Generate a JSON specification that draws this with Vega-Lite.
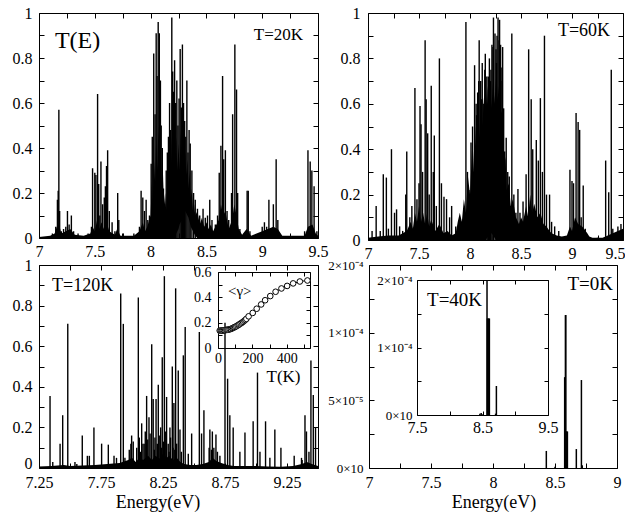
{
"$schema":"https://vega.github.io/schema/vega-lite/v6.json",
"width":625,"height":514,"autosize":{"type":"none"},"padding":0,"background":"white",
"config":{"view":{"stroke":null},"axis":{"grid":false,"domainColor":"black","tickColor":"black","labelColor":"black","titleColor":"black","titleFontWeight":"normal","labelFlush":false,"labelOverlap":false,"labelBound":false,"tickSize":-5,"domainWidth":1,"tickWidth":1,"title":null}},
"datasets":{
"e20":[{"E":7.0,"hi":0.005,"lo":0},{"E":7.1,"hi":0.01,"lo":0},{"E":7.14,"hi":0.02,"lo":0},{"E":7.16,"hi":0.05,"lo":0},{"E":7.18,"hi":0.06,"lo":0},{"E":7.2,"hi":0.02,"lo":0},{"E":7.24,"hi":0.03,"lo":0},{"E":7.28,"hi":0.04,"lo":0},{"E":7.32,"hi":0.015,"lo":0},{"E":7.4,"hi":0.01,"lo":0},{"E":7.46,"hi":0.02,"lo":0},{"E":7.48,"hi":0.05,"lo":0},{"E":7.5,"hi":0.03,"lo":0},{"E":7.52,"hi":0.08,"lo":0},{"E":7.54,"hi":0.04,"lo":0},{"E":7.56,"hi":0.07,"lo":0},{"E":7.58,"hi":0.04,"lo":0},{"E":7.6,"hi":0.08,"lo":0},{"E":7.63,"hi":0.03,"lo":0},{"E":7.68,"hi":0.015,"lo":0},{"E":7.7,"hi":0.04,"lo":0},{"E":7.73,"hi":0.01,"lo":0},{"E":7.85,"hi":0.01,"lo":0},{"E":7.9,"hi":0.03,"lo":0},{"E":7.93,"hi":0.07,"lo":0},{"E":7.95,"hi":0.03,"lo":0},{"E":7.97,"hi":0.05,"lo":0},{"E":8.0,"hi":0.1,"lo":0},{"E":8.01,"hi":0.25,"lo":0},{"E":8.02,"hi":0.15,"lo":0},{"E":8.03,"hi":0.35,"lo":0},{"E":8.04,"hi":0.25,"lo":0},{"E":8.05,"hi":0.45,"lo":0},{"E":8.06,"hi":0.3,"lo":0},{"E":8.07,"hi":0.5,"lo":0},{"E":8.08,"hi":0.35,"lo":0},{"E":8.09,"hi":0.4,"lo":0},{"E":8.1,"hi":0.25,"lo":0},{"E":8.11,"hi":0.3,"lo":0},{"E":8.12,"hi":0.15,"lo":0},{"E":8.13,"hi":0.2,"lo":0},{"E":8.14,"hi":0.12,"lo":0},{"E":8.15,"hi":0.25,"lo":0},{"E":8.16,"hi":0.2,"lo":0},{"E":8.17,"hi":0.35,"lo":0},{"E":8.18,"hi":0.28,"lo":0},{"E":8.19,"hi":0.45,"lo":0},{"E":8.2,"hi":0.3,"lo":0},{"E":8.21,"hi":0.5,"lo":0},{"E":8.22,"hi":0.35,"lo":0},{"E":8.23,"hi":0.45,"lo":0.02},{"E":8.24,"hi":0.3,"lo":0.03},{"E":8.25,"hi":0.42,"lo":0.04},{"E":8.26,"hi":0.3,"lo":0.06},{"E":8.27,"hi":0.48,"lo":0.07},{"E":8.28,"hi":0.32,"lo":0.08},{"E":8.29,"hi":0.45,"lo":0.1},{"E":8.3,"hi":0.3,"lo":0.11},{"E":8.31,"hi":0.38,"lo":0.12},{"E":8.32,"hi":0.28,"lo":0.11},{"E":8.33,"hi":0.35,"lo":0.1},{"E":8.34,"hi":0.22,"lo":0.09},{"E":8.35,"hi":0.3,"lo":0.07},{"E":8.36,"hi":0.18,"lo":0.05},{"E":8.37,"hi":0.22,"lo":0.04},{"E":8.38,"hi":0.12,"lo":0.03},{"E":8.39,"hi":0.15,"lo":0.02},{"E":8.4,"hi":0.1,"lo":0.01},{"E":8.42,"hi":0.12,"lo":0},{"E":8.44,"hi":0.06,"lo":0},{"E":8.46,"hi":0.09,"lo":0},{"E":8.48,"hi":0.05,"lo":0},{"E":8.5,"hi":0.07,"lo":0},{"E":8.52,"hi":0.04,"lo":0},{"E":8.54,"hi":0.06,"lo":0},{"E":8.56,"hi":0.03,"lo":0},{"E":8.58,"hi":0.05,"lo":0},{"E":8.61,"hi":0.08,"lo":0},{"E":8.63,"hi":0.15,"lo":0},{"E":8.65,"hi":0.1,"lo":0},{"E":8.67,"hi":0.12,"lo":0},{"E":8.7,"hi":0.04,"lo":0},{"E":8.73,"hi":0.08,"lo":0},{"E":8.75,"hi":0.15,"lo":0},{"E":8.77,"hi":0.1,"lo":0},{"E":8.79,"hi":0.04,"lo":0},{"E":8.82,"hi":0.015,"lo":0},{"E":8.86,"hi":0.04,"lo":0},{"E":8.9,"hi":0.01,"lo":0},{"E":9.0,"hi":0.03,"lo":0},{"E":9.05,"hi":0.04,"lo":0},{"E":9.1,"hi":0.05,"lo":0},{"E":9.14,"hi":0.04,"lo":0},{"E":9.18,"hi":0.01,"lo":0},{"E":9.38,"hi":0.01,"lo":0},{"E":9.41,"hi":0.05,"lo":0},{"E":9.45,"hi":0.06,"lo":0},{"E":9.48,"hi":0.02,"lo":0},{"E":9.5,"hi":0.01,"lo":0}],
"s20":[{"E":7.12,"T":0.02},{"E":7.15,"T":0.05},{"E":7.165,"T":0.17},{"E":7.172,"T":0.21},{"E":7.178,"T":0.57},{"E":7.185,"T":0.12},{"E":7.2,"T":0.03},{"E":7.22,"T":0.04},{"E":7.24,"T":0.05},{"E":7.255,"T":0.12},{"E":7.27,"T":0.06},{"E":7.29,"T":0.1},{"E":7.31,"T":0.03},{"E":7.35,"T":0.02},{"E":7.44,"T":0.02},{"E":7.47,"T":0.05},{"E":7.48,"T":0.31},{"E":7.5,"T":0.29},{"E":7.51,"T":0.28},{"E":7.525,"T":0.64},{"E":7.535,"T":0.24},{"E":7.545,"T":0.1},{"E":7.555,"T":0.34},{"E":7.57,"T":0.15},{"E":7.585,"T":0.18},{"E":7.595,"T":0.23},{"E":7.605,"T":0.32},{"E":7.615,"T":0.39},{"E":7.63,"T":0.12},{"E":7.655,"T":0.07},{"E":7.68,"T":0.03},{"E":7.705,"T":0.2},{"E":7.715,"T":0.08},{"E":7.75,"T":0.02},{"E":7.85,"T":0.02},{"E":7.9,"T":0.05},{"E":7.915,"T":0.21},{"E":7.93,"T":0.18},{"E":7.945,"T":0.12},{"E":7.96,"T":0.17},{"E":7.975,"T":0.08},{"E":7.99,"T":0.1},{"E":8.005,"T":0.33},{"E":8.015,"T":0.45},{"E":8.028,"T":0.82},{"E":8.04,"T":0.55},{"E":8.05,"T":0.91},{"E":8.058,"T":0.72},{"E":8.068,"T":0.96},{"E":8.078,"T":0.91},{"E":8.088,"T":0.7},{"E":8.095,"T":0.5},{"E":8.105,"T":0.4},{"E":8.115,"T":0.22},{"E":8.125,"T":0.15},{"E":8.14,"T":0.3},{"E":8.15,"T":0.38},{"E":8.16,"T":0.45},{"E":8.17,"T":0.6},{"E":8.18,"T":0.48},{"E":8.19,"T":0.98},{"E":8.198,"T":0.74},{"E":8.205,"T":0.65},{"E":8.215,"T":0.79},{"E":8.225,"T":0.6},{"E":8.235,"T":0.7},{"E":8.245,"T":0.5},{"E":8.255,"T":0.62},{"E":8.265,"T":0.84},{"E":8.275,"T":0.58},{"E":8.285,"T":0.86},{"E":8.295,"T":0.6},{"E":8.305,"T":0.52},{"E":8.315,"T":0.45},{"E":8.325,"T":0.7},{"E":8.335,"T":0.38},{"E":8.345,"T":0.48},{"E":8.355,"T":0.42},{"E":8.37,"T":0.3},{"E":8.385,"T":0.2},{"E":8.4,"T":0.17},{"E":8.42,"T":0.13},{"E":8.44,"T":0.1},{"E":8.47,"T":0.13},{"E":8.49,"T":0.09},{"E":8.51,"T":0.1},{"E":8.53,"T":0.17},{"E":8.55,"T":0.08},{"E":8.58,"T":0.06},{"E":8.6,"T":0.1},{"E":8.615,"T":0.29},{"E":8.63,"T":0.41},{"E":8.645,"T":0.72},{"E":8.655,"T":0.35},{"E":8.67,"T":0.39},{"E":8.685,"T":0.12},{"E":8.7,"T":0.08},{"E":8.725,"T":0.2},{"E":8.735,"T":0.55},{"E":8.755,"T":0.86},{"E":8.77,"T":0.66},{"E":8.78,"T":0.2},{"E":8.8,"T":0.04},{"E":8.84,"T":0.02},{"E":8.865,"T":0.21},{"E":8.875,"T":0.21},{"E":8.89,"T":0.03},{"E":9.0,"T":0.05},{"E":9.02,"T":0.07},{"E":9.04,"T":0.05},{"E":9.06,"T":0.17},{"E":9.08,"T":0.04},{"E":9.1,"T":0.15},{"E":9.125,"T":0.35},{"E":9.14,"T":0.08},{"E":9.38,"T":0.03},{"E":9.41,"T":0.39},{"E":9.43,"T":0.34},{"E":9.445,"T":0.3},{"E":9.465,"T":0.23},{"E":9.49,"T":0.03}],
"e60":[{"E":7.0,"hi":0.01,"lo":0},{"E":7.1,"hi":0.015,"lo":0},{"E":7.2,"hi":0.02,"lo":0},{"E":7.3,"hi":0.02,"lo":0},{"E":7.38,"hi":0.04,"lo":0},{"E":7.42,"hi":0.08,"lo":0},{"E":7.44,"hi":0.05,"lo":0},{"E":7.46,"hi":0.12,"lo":0},{"E":7.48,"hi":0.08,"lo":0},{"E":7.5,"hi":0.15,"lo":0},{"E":7.52,"hi":0.08,"lo":0},{"E":7.54,"hi":0.12,"lo":0},{"E":7.56,"hi":0.07,"lo":0},{"E":7.58,"hi":0.12,"lo":0},{"E":7.6,"hi":0.06,"lo":0},{"E":7.62,"hi":0.09,"lo":0},{"E":7.66,"hi":0.04,"lo":0},{"E":7.7,"hi":0.07,"lo":0},{"E":7.74,"hi":0.03,"lo":0},{"E":7.78,"hi":0.04,"lo":0},{"E":7.82,"hi":0.02,"lo":0},{"E":7.86,"hi":0.03,"lo":0},{"E":7.88,"hi":0.08,"lo":0},{"E":7.9,"hi":0.12,"lo":0},{"E":7.92,"hi":0.08,"lo":0},{"E":7.94,"hi":0.18,"lo":0},{"E":7.96,"hi":0.12,"lo":0},{"E":7.98,"hi":0.28,"lo":0},{"E":8.0,"hi":0.2,"lo":0},{"E":8.02,"hi":0.4,"lo":0},{"E":8.03,"hi":0.3,"lo":0},{"E":8.05,"hi":0.5,"lo":0},{"E":8.06,"hi":0.4,"lo":0},{"E":8.08,"hi":0.58,"lo":0},{"E":8.09,"hi":0.45,"lo":0},{"E":8.11,"hi":0.62,"lo":0},{"E":8.12,"hi":0.5,"lo":0},{"E":8.14,"hi":0.65,"lo":0},{"E":8.15,"hi":0.55,"lo":0},{"E":8.17,"hi":0.68,"lo":0.01},{"E":8.18,"hi":0.55,"lo":0.02},{"E":8.2,"hi":0.7,"lo":0.03},{"E":8.21,"hi":0.58,"lo":0.03},{"E":8.23,"hi":0.72,"lo":0.02},{"E":8.24,"hi":0.6,"lo":0.01},{"E":8.26,"hi":0.75,"lo":0},{"E":8.27,"hi":0.62,"lo":0},{"E":8.29,"hi":0.7,"lo":0},{"E":8.3,"hi":0.55,"lo":0},{"E":8.32,"hi":0.58,"lo":0},{"E":8.33,"hi":0.4,"lo":0},{"E":8.35,"hi":0.35,"lo":0},{"E":8.36,"hi":0.22,"lo":0},{"E":8.38,"hi":0.25,"lo":0},{"E":8.4,"hi":0.15,"lo":0},{"E":8.42,"hi":0.18,"lo":0},{"E":8.45,"hi":0.1,"lo":0},{"E":8.48,"hi":0.07,"lo":0},{"E":8.5,"hi":0.1,"lo":0},{"E":8.52,"hi":0.08,"lo":0},{"E":8.55,"hi":0.15,"lo":0},{"E":8.57,"hi":0.1,"lo":0},{"E":8.59,"hi":0.2,"lo":0},{"E":8.61,"hi":0.12,"lo":0},{"E":8.63,"hi":0.16,"lo":0},{"E":8.66,"hi":0.1,"lo":0},{"E":8.69,"hi":0.12,"lo":0},{"E":8.72,"hi":0.07,"lo":0},{"E":8.75,"hi":0.06,"lo":0},{"E":8.78,"hi":0.04,"lo":0},{"E":8.8,"hi":0.03,"lo":0},{"E":8.85,"hi":0.02,"lo":0},{"E":8.9,"hi":0.015,"lo":0},{"E":8.95,"hi":0.02,"lo":0},{"E":8.98,"hi":0.06,"lo":0},{"E":9.0,"hi":0.04,"lo":0},{"E":9.03,"hi":0.1,"lo":0},{"E":9.06,"hi":0.07,"lo":0},{"E":9.1,"hi":0.06,"lo":0},{"E":9.15,"hi":0.03,"lo":0},{"E":9.17,"hi":0.015,"lo":0},{"E":9.2,"hi":0.01,"lo":0},{"E":9.3,"hi":0.01,"lo":0},{"E":9.35,"hi":0.02,"lo":0},{"E":9.4,"hi":0.03,"lo":0},{"E":9.45,"hi":0.04,"lo":0},{"E":9.5,"hi":0.05,"lo":0}],
"s60":[{"E":7.04,"T":0.04},{"E":7.08,"T":0.15},{"E":7.12,"T":0.04},{"E":7.15,"T":0.29},{"E":7.18,"T":0.275},{"E":7.2,"T":0.05},{"E":7.23,"T":0.4},{"E":7.26,"T":0.12},{"E":7.28,"T":0.135},{"E":7.31,"T":0.06},{"E":7.34,"T":0.04},{"E":7.37,"T":0.2},{"E":7.38,"T":0.39},{"E":7.41,"T":0.1},{"E":7.43,"T":0.15},{"E":7.46,"T":0.67},{"E":7.48,"T":0.18},{"E":7.5,"T":0.25},{"E":7.51,"T":0.59},{"E":7.52,"T":0.51},{"E":7.535,"T":0.3},{"E":7.56,"T":0.88},{"E":7.57,"T":0.62},{"E":7.585,"T":0.47},{"E":7.6,"T":0.2},{"E":7.62,"T":0.68},{"E":7.64,"T":0.3},{"E":7.65,"T":0.46},{"E":7.67,"T":0.15},{"E":7.7,"T":0.8},{"E":7.72,"T":0.25},{"E":7.745,"T":0.19},{"E":7.77,"T":0.18},{"E":7.8,"T":0.1},{"E":7.82,"T":0.15},{"E":7.86,"T":0.06},{"E":7.9,"T":0.08},{"E":7.96,"T":0.96},{"E":7.975,"T":0.3},{"E":7.99,"T":0.22},{"E":8.01,"T":0.43},{"E":8.025,"T":0.5},{"E":8.03,"T":0.22},{"E":8.045,"T":0.77},{"E":8.06,"T":0.6},{"E":8.065,"T":0.55},{"E":8.075,"T":0.65},{"E":8.085,"T":0.7},{"E":8.09,"T":0.88},{"E":8.105,"T":0.7},{"E":8.115,"T":0.62},{"E":8.12,"T":0.78},{"E":8.135,"T":0.6},{"E":8.145,"T":0.75},{"E":8.15,"T":0.82},{"E":8.165,"T":0.72},{"E":8.175,"T":0.6},{"E":8.18,"T":0.72},{"E":8.19,"T":0.8},{"E":8.2,"T":0.7},{"E":8.205,"T":0.75},{"E":8.215,"T":0.86},{"E":8.225,"T":0.85},{"E":8.23,"T":0.98},{"E":8.245,"T":0.91},{"E":8.255,"T":0.84},{"E":8.26,"T":0.78},{"E":8.265,"T":0.9},{"E":8.275,"T":0.98},{"E":8.285,"T":0.88},{"E":8.29,"T":0.97},{"E":8.3,"T":0.86},{"E":8.305,"T":0.76},{"E":8.315,"T":0.7},{"E":8.32,"T":0.85},{"E":8.33,"T":0.58},{"E":8.34,"T":0.39},{"E":8.355,"T":0.45},{"E":8.37,"T":0.3},{"E":8.385,"T":0.28},{"E":8.41,"T":0.91},{"E":8.43,"T":0.2},{"E":8.45,"T":0.12},{"E":8.47,"T":0.225},{"E":8.49,"T":0.12},{"E":8.52,"T":0.17},{"E":8.55,"T":0.29},{"E":8.575,"T":0.84},{"E":8.6,"T":0.62},{"E":8.615,"T":0.4},{"E":8.65,"T":0.44},{"E":8.67,"T":0.35},{"E":8.69,"T":0.625},{"E":8.71,"T":0.3},{"E":8.73,"T":0.9},{"E":8.75,"T":0.2},{"E":8.78,"T":0.2},{"E":8.8,"T":0.08},{"E":8.83,"T":0.06},{"E":8.87,"T":0.04},{"E":8.98,"T":0.31},{"E":9.0,"T":0.26},{"E":9.015,"T":0.25},{"E":9.04,"T":0.56},{"E":9.06,"T":0.52},{"E":9.075,"T":0.485},{"E":9.09,"T":0.1},{"E":9.11,"T":0.24},{"E":9.13,"T":0.05},{"E":9.25,"T":0.01},{"E":9.33,"T":0.35},{"E":9.36,"T":0.21},{"E":9.385,"T":0.75},{"E":9.4,"T":0.05},{"E":9.45,"T":0.06},{"E":9.48,"T":0.07}],
"e120":[{"E":7.25,"hi":0.008,"lo":0},{"E":7.35,"hi":0.01,"lo":0},{"E":7.45,"hi":0.015,"lo":0},{"E":7.5,"hi":0.01,"lo":0},{"E":7.6,"hi":0.012,"lo":0},{"E":7.7,"hi":0.015,"lo":0},{"E":7.8,"hi":0.02,"lo":0},{"E":7.9,"hi":0.025,"lo":0},{"E":7.97,"hi":0.04,"lo":0},{"E":8.0,"hi":0.05,"lo":0},{"E":8.03,"hi":0.03,"lo":0},{"E":8.06,"hi":0.05,"lo":0},{"E":8.09,"hi":0.04,"lo":0},{"E":8.13,"hi":0.06,"lo":0},{"E":8.16,"hi":0.04,"lo":0},{"E":8.19,"hi":0.06,"lo":0},{"E":8.22,"hi":0.045,"lo":0},{"E":8.25,"hi":0.07,"lo":0},{"E":8.28,"hi":0.05,"lo":0},{"E":8.3,"hi":0.06,"lo":0},{"E":8.33,"hi":0.04,"lo":0},{"E":8.36,"hi":0.05,"lo":0},{"E":8.39,"hi":0.03,"lo":0},{"E":8.42,"hi":0.02,"lo":0},{"E":8.47,"hi":0.015,"lo":0},{"E":8.52,"hi":0.015,"lo":0},{"E":8.57,"hi":0.02,"lo":0},{"E":8.62,"hi":0.03,"lo":0},{"E":8.65,"hi":0.05,"lo":0},{"E":8.68,"hi":0.035,"lo":0},{"E":8.72,"hi":0.025,"lo":0},{"E":8.77,"hi":0.015,"lo":0},{"E":8.82,"hi":0.01,"lo":0},{"E":8.9,"hi":0.01,"lo":0},{"E":9.0,"hi":0.01,"lo":0},{"E":9.1,"hi":0.008,"lo":0},{"E":9.2,"hi":0.006,"lo":0},{"E":9.3,"hi":0.01,"lo":0},{"E":9.37,"hi":0.02,"lo":0},{"E":9.41,"hi":0.03,"lo":0},{"E":9.45,"hi":0.02,"lo":0},{"E":9.5,"hi":0.01,"lo":0}],
"s120":[{"E":7.339,"T":0.355},{"E":7.361,"T":0.03},{"E":7.42,"T":0.12},{"E":7.441,"T":0.26},{"E":7.482,"T":0.71},{"E":7.54,"T":0.03},{"E":7.555,"T":0.02},{"E":7.599,"T":0.16},{"E":7.64,"T":0.06},{"E":7.656,"T":0.06},{"E":7.693,"T":0.2},{"E":7.755,"T":0.12},{"E":7.809,"T":0.115},{"E":7.855,"T":0.06},{"E":7.875,"T":0.05},{"E":7.909,"T":0.86},{"E":7.93,"T":0.71},{"E":7.943,"T":0.05},{"E":7.978,"T":0.09},{"E":7.991,"T":0.12},{"E":7.997,"T":0.16},{"E":8.01,"T":0.13},{"E":8.038,"T":0.1},{"E":8.051,"T":0.84},{"E":8.059,"T":0.15},{"E":8.069,"T":0.08},{"E":8.078,"T":0.22},{"E":8.088,"T":0.12},{"E":8.098,"T":0.12},{"E":8.107,"T":0.18},{"E":8.118,"T":0.355},{"E":8.127,"T":0.14},{"E":8.137,"T":0.25},{"E":8.146,"T":0.17},{"E":8.159,"T":0.61},{"E":8.171,"T":0.34},{"E":8.18,"T":0.09},{"E":8.185,"T":0.15},{"E":8.194,"T":0.34},{"E":8.204,"T":0.12},{"E":8.212,"T":0.41},{"E":8.224,"T":0.16},{"E":8.231,"T":0.2},{"E":8.238,"T":0.1},{"E":8.244,"T":0.545},{"E":8.253,"T":0.13},{"E":8.261,"T":0.945},{"E":8.272,"T":0.18},{"E":8.279,"T":0.35},{"E":8.292,"T":0.12},{"E":8.299,"T":0.08},{"E":8.306,"T":0.2},{"E":8.311,"T":0.15},{"E":8.325,"T":0.5},{"E":8.331,"T":0.1},{"E":8.338,"T":0.32},{"E":8.345,"T":0.09},{"E":8.352,"T":0.885},{"E":8.36,"T":0.12},{"E":8.373,"T":0.48},{"E":8.387,"T":0.19},{"E":8.398,"T":0.08},{"E":8.414,"T":0.555},{"E":8.429,"T":0.695},{"E":8.454,"T":0.07},{"E":8.481,"T":0.17},{"E":8.543,"T":0.67},{"E":8.561,"T":0.17},{"E":8.58,"T":0.285},{"E":8.622,"T":0.1},{"E":8.628,"T":0.19},{"E":8.641,"T":0.09},{"E":8.648,"T":0.18},{"E":8.66,"T":0.1},{"E":8.677,"T":0.165},{"E":8.689,"T":0.08},{"E":8.709,"T":0.06},{"E":8.75,"T":0.715},{"E":8.771,"T":0.44},{"E":8.789,"T":0.26},{"E":8.816,"T":0.2},{"E":8.87,"T":0.08},{"E":8.911,"T":0.175},{"E":8.977,"T":0.23},{"E":9.012,"T":0.47},{"E":9.032,"T":0.08},{"E":9.077,"T":0.23},{"E":9.112,"T":0.05},{"E":9.152,"T":0.19},{"E":9.201,"T":0.1},{"E":9.308,"T":0.06},{"E":9.367,"T":0.05},{"E":9.372,"T":0.04},{"E":9.395,"T":0.26},{"E":9.407,"T":0.18},{"E":9.427,"T":0.08},{"E":9.443,"T":0.53},{"E":9.462,"T":0.36},{"E":9.48,"T":0.2}],
"s0":[{"E":8.43,"V":0.0000126},{"E":8.5,"V":0.000001},{"E":8.578,"V":0.000067},{"E":8.581,"V":0.000067},{"E":8.584,"V":0.000113},{"E":8.587,"V":0.000113},{"E":8.591,"V":0.000027},{"E":8.595,"V":0.000027},{"E":8.6,"V":0.000027},{"E":8.672,"V":0.000014},{"E":8.713,"V":0.000065},{"E":8.72,"V":0.000002}],
"s40":[{"E":8.46,"V":0.000002},{"E":8.48,"V":0.000003},{"E":8.5,"V":0.000001},{"E":8.569,"V":0.0002},{"E":8.575,"V":0.000143},{"E":8.585,"V":0.000143},{"E":8.595,"V":0.000143},{"E":8.605,"V":0.000143},{"E":8.7,"V":0.000002},{"E":8.712,"V":0.000043}],
"gam":[{"T":10,"g":0.137},{"T":16,"g":0.137},{"T":22,"g":0.137},{"T":28,"g":0.138},{"T":35,"g":0.14},{"T":42,"g":0.141},{"T":49,"g":0.143},{"T":55,"g":0.144},{"T":61,"g":0.145},{"T":68,"g":0.148},{"T":75,"g":0.15},{"T":82,"g":0.155},{"T":88,"g":0.159},{"T":94,"g":0.163},{"T":100,"g":0.167},{"T":107,"g":0.172},{"T":114,"g":0.178},{"T":120,"g":0.183},{"T":125,"g":0.188},{"T":132,"g":0.194},{"T":139,"g":0.2},{"T":146,"g":0.207},{"T":153,"g":0.215},{"T":159,"g":0.222},{"T":165,"g":0.23},{"T":178,"g":0.25},{"T":202,"g":0.277},{"T":225,"g":0.31},{"T":251,"g":0.344},{"T":274,"g":0.377},{"T":304,"g":0.41},{"T":335,"g":0.444},{"T":369,"g":0.47},{"T":402,"g":0.49},{"T":437,"g":0.51},{"T":476,"g":0.525},{"T":520,"g":0.533}]
},
"layer":[
{"resolve":{"axis":{"x":"independent","y":"independent"}},"layer":[
 {"data":{"name":"e20"},"mark":{"type":"area","color":"black","interpolate":"linear"},
  "encoding":{"x":{"field":"E","type":"quantitative","scale":{"domain":[7,9.5],"range":[39,318],"nice":false,"zero":false},"axis":{"orient":"bottom","offset":-276,"values":[7,7.25,7.5,7.75,8,8.25,8.5,8.75,9,9.25,9.5],"labelExpr":"round(datum.value*4)%2==0 ? format(datum.value,'.3~g') : ''","labelFont":"Liberation Serif","labelFontSize":16,"labelPadding":10}},
   "y":{"field":"hi","type":"quantitative","scale":{"domain":[0,1],"range":[238,13],"nice":false,"zero":false},"axis":{"orient":"left","offset":-39,"values":[0,0.1,0.2,0.3,0.4,0.5,0.6,0.7,0.8,0.9,1],"labelExpr":"round(datum.value*10)%2==0 ? format(datum.value,'.2~g') : ''","labelFont":"Liberation Serif","labelFontSize":16,"labelPadding":12}},
   "y2":{"field":"lo"}}},
 {"data":{"name":"s20"},"mark":{"type":"rule","color":"black","strokeWidth":1.4},
  "encoding":{"x":{"field":"E","type":"quantitative","scale":{"domain":[7,9.5],"range":[39,318],"nice":false,"zero":false},"axis":{"orient":"top","offset":-13,"values":[7,7.25,7.5,7.75,8,8.25,8.5,8.75,9,9.25,9.5],"labels":false}},
   "y":{"field":"T","type":"quantitative","scale":{"domain":[0,1],"range":[238,13],"nice":false,"zero":false},"axis":{"orient":"right","offset":-307,"values":[0,0.1,0.2,0.3,0.4,0.5,0.6,0.7,0.8,0.9,1],"labels":false}},
   "y2":{"datum":0}}},
 {"data":{"values":[{"label":"T(E)"}]},"mark":{"type":"text","fontSize":24,"align":"left","baseline":"alphabetic","font":"Liberation Serif","color":"black"},
  "encoding":{"x":{"datum":7.143,"type":"quantitative","axis":null},"y":{"datum":0.844,"type":"quantitative","axis":null},"text":{"field":"label"}}},
 {"data":{"values":[{"label":"T=20K"}]},"mark":{"type":"text","fontSize":17,"align":"right","baseline":"alphabetic","font":"Liberation Serif","color":"black"},
  "encoding":{"x":{"datum":9.366,"type":"quantitative","axis":null},"y":{"datum":0.88,"type":"quantitative","axis":null},"text":{"field":"label"}}}
]},
{"resolve":{"axis":{"x":"independent","y":"independent"}},"layer":[
 {"data":{"name":"e60"},"mark":{"type":"area","color":"black","interpolate":"linear"},
  "encoding":{"x":{"field":"E","type":"quantitative","scale":{"domain":[7,9.5],"range":[368,623],"nice":false,"zero":false},"axis":{"orient":"bottom","offset":-274,"values":[7,7.25,7.5,7.75,8,8.25,8.5,8.75,9,9.25,9.5],"labelExpr":"round(datum.value*4)%2==0 ? format(datum.value,'.3~g') : ''","labelFont":"Liberation Serif","labelFontSize":16,"labelPadding":10,"labelAlign":{"condition":{"test":"datum.value == 9.5","value":"right"},"value":"center"},"labelOffset":{"condition":{"test":"datum.value == 9.5","value":2},"value":0}}},
   "y":{"field":"hi","type":"quantitative","scale":{"domain":[0,1],"range":[240,13],"nice":false,"zero":false},"axis":{"orient":"left","offset":-368,"values":[0,0.1,0.2,0.3,0.4,0.5,0.6,0.7,0.8,0.9,1],"labelExpr":"round(datum.value*10)%2==0 ? format(datum.value,'.2~g') : ''","labelFont":"Liberation Serif","labelFontSize":16,"labelPadding":13}},
   "y2":{"field":"lo"}}},
 {"data":{"name":"s60"},"mark":{"type":"rule","color":"black","strokeWidth":1.4},
  "encoding":{"x":{"field":"E","type":"quantitative","scale":{"domain":[7,9.5],"range":[368,623],"nice":false,"zero":false},"axis":{"orient":"top","offset":-13,"values":[7,7.25,7.5,7.75,8,8.25,8.5,8.75,9,9.25,9.5],"labels":false}},
   "y":{"field":"T","type":"quantitative","scale":{"domain":[0,1],"range":[240,13],"nice":false,"zero":false},"axis":{"orient":"right","offset":-2,"values":[0,0.1,0.2,0.3,0.4,0.5,0.6,0.7,0.8,0.9,1],"labels":false}},
   "y2":{"datum":0}}},
 {"data":{"values":[{"label":"T=60K"}]},"mark":{"type":"text","fontSize":18,"align":"right","baseline":"alphabetic","font":"Liberation Serif","color":"black"},
  "encoding":{"x":{"datum":9.373,"type":"quantitative","axis":null},"y":{"datum":0.899,"type":"quantitative","axis":null},"text":{"field":"label"}}}
]},
{"resolve":{"axis":{"x":"independent","y":"independent"}},"layer":[
 {"data":{"name":"e120"},"mark":{"type":"area","color":"black","interpolate":"linear"},
  "encoding":{"x":{"field":"E","type":"quantitative","scale":{"domain":[7.25,9.5],"range":[39,318],"nice":false,"zero":false},"axis":{"orient":"bottom","offset":-46,"values":[7.25,7.5,7.75,8,8.25,8.5,8.75,9,9.25,9.5],"labelExpr":"round((datum.value-7.25)*4)%2==0 ? format(datum.value,'.3~g') : ''","labelFont":"Liberation Serif","labelFontSize":16,"labelPadding":11,"title":"Energy(eV)","titleFont":"Liberation Serif","titleFontSize":18,"titleX":157.5,"titleY":39,"titleBaseline":"alphabetic","titleAlign":"center"}},
   "y":{"field":"hi","type":"quantitative","scale":{"domain":[0,1],"range":[468,265],"nice":false,"zero":false},"axis":{"orient":"left","offset":-39,"values":[0,0.1,0.2,0.3,0.4,0.5,0.6,0.7,0.8,0.9,1],"labelExpr":"round(datum.value*10)%2==0 ? format(datum.value,'.2~g') : ''","labelFont":"Liberation Serif","labelFontSize":16,"labelPadding":12,"labelBaseline":{"condition":{"test":"datum.value == 0","value":"bottom"},"value":"middle"},"labelOffset":{"condition":{"test":"datum.value == 0","value":3},"value":0}}},
   "y2":{"field":"lo"}}},
 {"data":{"name":"s120"},"mark":{"type":"rule","color":"black","strokeWidth":1.4},
  "encoding":{"x":{"field":"E","type":"quantitative","scale":{"domain":[7.25,9.5],"range":[39,318],"nice":false,"zero":false},"axis":{"orient":"top","offset":-265,"values":[7.25,7.5,7.75,8,8.25,8.5,8.75,9,9.25,9.5],"labels":false}},
   "y":{"field":"T","type":"quantitative","scale":{"domain":[0,1],"range":[468,265],"nice":false,"zero":false},"axis":{"orient":"right","offset":-307,"values":[0,0.1,0.2,0.3,0.4,0.5,0.6,0.7,0.8,0.9,1],"labels":false}},
   "y2":{"datum":0}}},
 {"data":{"values":[{"label":"T=120K"}]},"mark":{"type":"text","fontSize":18,"align":"left","baseline":"alphabetic","font":"Liberation Serif","color":"black"},
  "encoding":{"x":{"datum":7.355,"type":"quantitative","axis":null},"y":{"datum":0.873,"type":"quantitative","axis":null},"text":{"field":"label"}}}
]},
{"resolve":{"axis":{"x":"independent","y":"independent"}},"layer":[
 {"data":{"name":"s0"},"mark":{"type":"rule","color":"black","strokeWidth":1.5},
  "encoding":{"x":{"field":"E","type":"quantitative","scale":{"domain":[7,9],"range":[369,617],"nice":false,"zero":false},"axis":{"orient":"bottom","offset":-46,"values":[7,7.25,7.5,7.75,8,8.25,8.5,8.75,9],"labelExpr":"round(datum.value*4)%2==0 ? format(datum.value,'.3~g') : ''","labelFont":"Liberation Serif","labelFontSize":16,"labelPadding":11,"title":"Energy(eV)","titleFont":"Liberation Serif","titleFontSize":18,"titleX":493.5,"titleY":39,"titleBaseline":"alphabetic","titleAlign":"center"}},
   "y":{"field":"V","type":"quantitative","scale":{"domain":[0,0.00015],"range":[468,265],"nice":false,"zero":false},"axis":{"orient":"left","offset":-369,"values":[0,0.000025,0.00005,0.000075,0.0001,0.000125,0.00015],"labelExpr":"datum.value == 0 ? '0×10' : abs(datum.value-0.00005) < 1e-9 ? '5×10⁻⁵' : abs(datum.value-0.0001) < 1e-9 ? '1×10⁻⁴' : abs(datum.value-0.00015) < 1e-9 ? '2×10⁻⁴' : ''","labelFont":"Liberation Serif","labelFontSize":13,"labelPadding":11}},
   "y2":{"datum":0}}},
 {"data":{"name":"s0"},"mark":{"type":"rule","opacity":0},
  "encoding":{"x":{"field":"E","type":"quantitative","scale":{"domain":[7,9],"range":[369,617],"nice":false,"zero":false},"axis":{"orient":"top","offset":-265,"values":[7,7.25,7.5,7.75,8,8.25,8.5,8.75,9],"labels":false}},
   "y":{"field":"V","type":"quantitative","scale":{"domain":[0,0.00015],"range":[468,265],"nice":false,"zero":false},"axis":{"orient":"right","offset":-8,"values":[0,0.000025,0.00005,0.000075,0.0001,0.000125,0.00015],"labels":false}},
   "y2":{"datum":0}}},
 {"data":{"values":[{"label":"T=0K"}]},"mark":{"type":"text","fontSize":19,"align":"right","baseline":"alphabetic","font":"Liberation Serif","color":"black"},
  "encoding":{"x":{"datum":8.968,"type":"quantitative","axis":null},"y":{"datum":0.0001315,"type":"quantitative","axis":null},"text":{"field":"label"}}}
]},
{"resolve":{"axis":{"x":"independent","y":"independent"}},"layer":[
 {"data":{"name":"gam"},"mark":{"type":"line","color":"black","strokeWidth":1},
  "encoding":{"x":{"field":"T","type":"quantitative","scale":{"domain":[0,535],"range":[218,310],"nice":false,"zero":false},"axis":{"orient":"bottom","offset":-166,"values":[0,100,200,300,400,500],"labelExpr":"datum.value % 200 == 0 ? format(datum.value,'d') : ''","labelFont":"Liberation Serif","labelFontSize":14,"labelPadding":7,"tickSize":-4,"title":"T(K)","titleFont":"Liberation Serif","titleFontSize":17,"titleX":283,"titleY":33,"titleBaseline":"alphabetic","titleAlign":"center"}},
   "y":{"field":"g","type":"quantitative","scale":{"domain":[0,0.6],"range":[348,272],"nice":false,"zero":false},"axis":{"orient":"left","offset":-218,"values":[0,0.1,0.2,0.3,0.4,0.5,0.6],"labelExpr":"round(datum.value*10)%2==0 ? format(datum.value,'.1~f') : ''","labelFont":"Liberation Serif","labelFontSize":14,"labelPadding":11,"tickSize":-4}}}},
 {"data":{"name":"gam"},"mark":{"type":"point","filled":true,"fill":"white","stroke":"black","strokeWidth":1,"size":32,"opacity":1},
  "encoding":{"x":{"field":"T","type":"quantitative","scale":{"domain":[0,535],"range":[218,310],"nice":false,"zero":false},"axis":{"orient":"top","offset":-272,"values":[0,100,200,300,400,500],"labels":false,"tickSize":-4}},
   "y":{"field":"g","type":"quantitative","scale":{"domain":[0,0.6],"range":[348,272],"nice":false,"zero":false},"axis":{"orient":"right","offset":-315,"values":[0,0.1,0.2,0.3,0.4,0.5,0.6],"labels":false,"tickSize":-4}}}},
 {"data":{"values":[{"label":"<γ>"}]},"mark":{"type":"text","fontSize":15,"align":"left","baseline":"alphabetic","font":"Liberation Serif","color":"black"},
  "encoding":{"x":{"datum":58,"type":"quantitative","axis":null},"y":{"datum":0.41,"type":"quantitative","axis":null},"text":{"field":"label"}}}
]},
{"resolve":{"axis":{"x":"independent","y":"independent"}},"layer":[
 {"data":{"name":"s40"},"mark":{"type":"rule","color":"black","strokeWidth":1.5},
  "encoding":{"x":{"field":"E","type":"quantitative","scale":{"domain":[7.5,9.5],"range":[417,548],"nice":false,"zero":false},"axis":{"orient":"bottom","offset":-99,"values":[7.5,8,8.5,9,9.5],"labelExpr":"round((datum.value-7.5)*2)%2==0 ? format(datum.value,'.2~g') : ''","labelFont":"Liberation Serif","labelFontSize":16,"labelPadding":8,"tickSize":-4}},
   "y":{"field":"V","type":"quantitative","scale":{"domain":[0,0.0002],"range":[415,280],"nice":false,"zero":false},"axis":{"orient":"left","offset":-417,"values":[0,0.00005,0.0001,0.00015,0.0002],"labelExpr":"datum.value == 0 ? '0×10' : abs(datum.value-0.0001) < 1e-9 ? '1×10⁻⁴' : abs(datum.value-0.0002) < 1e-9 ? '2×10⁻⁴' : ''","labelFont":"Liberation Serif","labelFontSize":13,"labelPadding":9,"tickSize":-4}},
   "y2":{"datum":0}}},
 {"data":{"name":"s40"},"mark":{"type":"rule","opacity":0},
  "encoding":{"x":{"field":"E","type":"quantitative","scale":{"domain":[7.5,9.5],"range":[417,548],"nice":false,"zero":false},"axis":{"orient":"top","offset":-280,"values":[7.5,8,8.5,9,9.5],"labels":false,"tickSize":-4}},
   "y":{"field":"V","type":"quantitative","scale":{"domain":[0,0.0002],"range":[415,280],"nice":false,"zero":false},"axis":{"orient":"right","offset":-77,"values":[0,0.00005,0.0001,0.00015,0.0002],"labels":false,"tickSize":-4}},
   "y2":{"datum":0}}},
 {"data":{"values":[{"label":"T=40K"}]},"mark":{"type":"text","fontSize":19,"align":"left","baseline":"alphabetic","font":"Liberation Serif","color":"black"},
  "encoding":{"x":{"datum":7.653,"type":"quantitative","axis":null},"y":{"datum":0.0001616,"type":"quantitative","axis":null},"text":{"field":"label"}}}
]}
],
"resolve":{"scale":{"x":"independent","y":"independent"},"axis":{"x":"independent","y":"independent"}}
}
